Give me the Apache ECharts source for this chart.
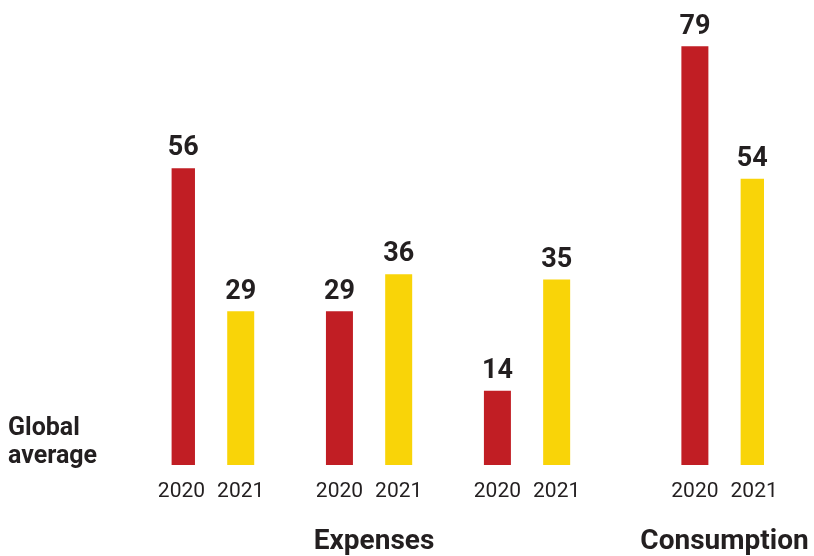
<!DOCTYPE html>
<html>
<head>
<meta charset="utf-8">
<script src="https://cdn.jsdelivr.net/npm/echarts@6/dist/echarts.min.js"></script>
<style>
  html, body { margin: 0; padding: 0; background: #fff; }
  #chart { width: 814px; height: 556px; }
</style>
</head>
<body>
<div id="chart"></div>
<script>
// values
const years = ['2020', '2021']
const groupNames = ['', 'Expenses', '', 'Consumption']
const values2020 = [56, 29, 14, 79]
const values2021 = [29, 36, 35, 54]
const sideLabel = ['Global', 'average']

// layout: slot index of each group's first bar on the category axis
const groupStart = [0, 8, 16, 26]
const yearStep = 3
const slotCount = 30

const RED = '#C11E24'
const YELLOW = '#F9D408'
const INK = '#231F20'
const FONT = 'Roboto, "Noto Sans", sans-serif'

const slots = new Array(slotCount).fill('')
const red = new Array(slotCount).fill('-')
const yellow = new Array(slotCount).fill('-')
groupStart.forEach((s, i) => {
    slots[s] = years[0]
    slots[s + yearStep] = years[1]
    red[s] = values2020[i]
    yellow[s + yearStep] = values2021[i]
})

const myChart = echarts.init(document.getElementById('chart'))

const valueLabel = {
    show: true,
    position: 'top',
    distance: 6,
    color: INK,
    fontFamily: FONT,
    fontWeight: 'bold',
    fontSize: 27
}

myChart.setOption({
    animation: false,
    grid: { left: 171.6, right: 50, top: 41, bottom: 91 },
    xAxis: {
        type: 'category',
        data: slots,
        axisLine: { show: false },
        axisTick: { show: false },
        axisLabel: {
            interval: 0,
            margin: 16,
            color: INK,
            fontFamily: FONT,
            fontSize: 21
        }
    },
    yAxis: {
        type: 'value',
        min: 0,
        max: 80,
        show: false,
        splitLine: { show: false }
    },
    series: [
        {
            name: years[0],
            type: 'bar',
            data: red,
            barWidth: 27,
            barGap: '-100%',
            itemStyle: { color: RED },
            label: valueLabel
        },
        {
            name: years[1],
            type: 'bar',
            data: yellow,
            barWidth: 27,
            barGap: '-100%',
            itemStyle: { color: YELLOW },
            label: valueLabel
        }
    ]
})

// group names centred under each pair of bars
const nudge = [0, 5, 0, 0]
const graphics = []
groupStart.forEach((s, i) => {
    if (!groupNames[i]) return
    const a = myChart.convertToPixel({ xAxisIndex: 0 }, s)
    const b = myChart.convertToPixel({ xAxisIndex: 0 }, s + yearStep)
    graphics.push({
        type: 'text',
        x: (a + b) / 2 + nudge[i],
        y: 542,
        style: {
            text: groupNames[i],
            fill: INK,
            font: 'bold 28px ' + FONT,
            textAlign: 'center',
            textVerticalAlign: 'middle'
        }
    })
})
graphics.push({
    type: 'text',
    left: 8,
    top: 415,
    style: {
        text: sideLabel.join('\n'),
        fill: INK,
        font: 'bold 25px ' + FONT,
        lineHeight: 28
    }
})
myChart.setOption({ graphic: graphics })
</script>
</body>
</html>
